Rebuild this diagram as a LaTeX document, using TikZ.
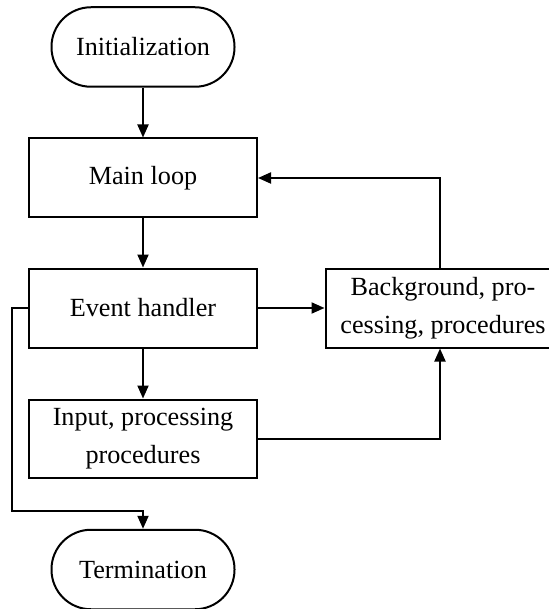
\documentclass[tikz,border=0pt]{standalone}
\usepackage{fontspec}
\setmainfont{Liberation Serif}
\usetikzlibrary{arrows.meta}
\tikzset{
  base/.style={draw, line width=2pt, inner sep=2pt, align=center,
    font=\fontsize{26.2pt}{38pt}\selectfont},
  procbox/.style={base, rectangle, minimum width=228pt, minimum height=79pt},
  termbox/.style={base, rectangle, rounded corners=39.5pt, minimum width=183pt, minimum height=79.5pt},
  conn/.style={line width=2pt, -{Triangle[length=13pt,width=11pt]}}
}
\begin{document}
\begin{tikzpicture}[x=1pt,y=-1pt]
\useasboundingbox (0,0) rectangle (548,609);
\node[termbox] (init) at (143,47) {Initialization};
\node[procbox] (main) at (143,178) {Main loop};
\node[procbox] (event) at (143,308) {Event handler};
\node[procbox, minimum height=78pt] (input) at (143,438.5) {Input, processing\\procedures};
\node[termbox] (term) at (143,569.5) {Termination};
\node[base, rectangle, minimum width=235pt, minimum height=79pt] (bg) at (443,308) {Background, pro-\\cessing, procedures};
\coordinate (bgx) at (440,0);
\coordinate (left) at (12,511);
\draw[conn] (init) -- (main);
\draw[conn] (main) -- (event);
\draw[conn] (event) -- (input);
\draw[conn] (event.east) -- (bg.west);
\draw[conn] (input.east) -| (bg.south -| bgx);
\draw[conn] (bg.north -| bgx) |- (main.east);
\draw[conn] (event.west) -| (left) -| (term.north);
\end{tikzpicture}
\end{document}
